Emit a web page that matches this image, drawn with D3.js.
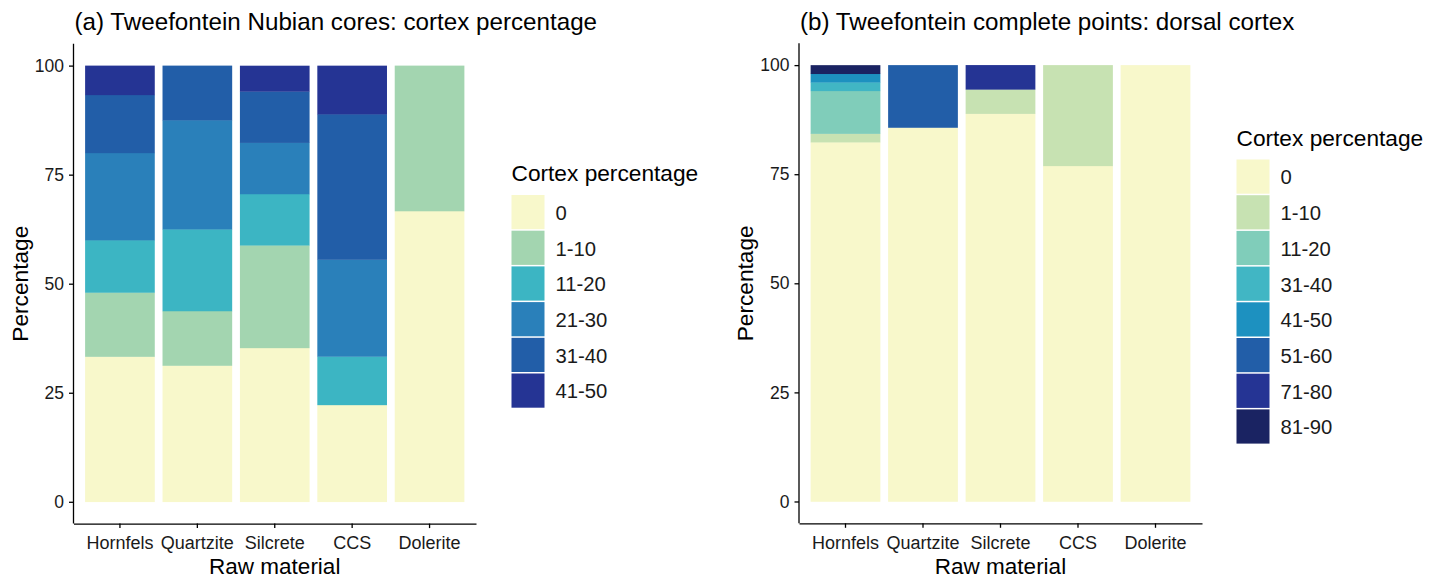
<!DOCTYPE html>
<html>
<head>
<meta charset="utf-8">
<script src="https://cdn.jsdelivr.net/npm/d3@7"></script>
<style>
  body { margin: 0; background: #fff; }
  text { font-family: "Liberation Sans", Arial, sans-serif; }
</style>
</head>
<body>
<svg id="chart" width="1438" height="579"></svg>
<script>
// raw materials on the x axis (both panels)
const materials = ["Hornfels", "Quartzite", "Silcrete", "CCS", "Dolerite"];

// (a) Nubian cores
const coresClasses = ["0", "1-10", "11-20", "21-30", "31-40", "41-50"];
const coresColors = ["#f8f8cb", "#a3d5b0", "#3cb5c3", "#2a80ba", "#225ea8", "#253494"];
// one row per class, values in materials order
const coresValues = [
  [33.3, 31.25, 35.29, 22.22, 66.67],
  [14.7, 12.5, 23.53, 0, 33.33],
  [12.0, 18.75, 11.76, 11.11, 0],
  [20.0, 25.0, 11.76, 22.22, 0],
  [13.3, 12.5, 11.76, 33.33, 0],
  [6.7, 0, 5.88, 11.11, 0]
];

// (b) complete points
const pointsClasses = ["0", "1-10", "11-20", "31-40", "41-50", "51-60", "71-80", "81-90"];
const pointsColors = ["#f8f8cb", "#c7e2b2", "#80cdba", "#41b6c4", "#1d91c0", "#225ea8", "#253494", "#1a2362"];
const pointsValues = [
  [82.35, 85.71, 88.89, 76.92, 100],
  [1.96, 0, 5.56, 23.08, 0],
  [9.80, 0, 0, 0, 0],
  [1.96, 0, 0, 0, 0],
  [1.96, 0, 0, 0, 0],
  [0, 14.29, 0, 0, 0],
  [0, 0, 5.56, 0, 0],
  [1.96, 0, 0, 0, 0]
];

const yTicks = [0, 25, 50, 75, 100];

const svg = d3.select("#chart");

function drawPanel(cfg) {
  const g = svg.append("g");

  const x = d3.scaleBand()
    .domain(materials)
    .range([cfg.left, cfg.right])
    .paddingInner(0.1)
    .paddingOuter(0.15);

  const y = d3.scaleLinear()
    .domain([-5, 105])
    .range([cfg.bottom, cfg.top]);

  // build rows for d3.stack
  const rows = materials.map((m, i) => {
    const r = {material: m};
    cfg.classes.forEach((c, k) => r[c] = cfg.values[k][i]);
    return r;
  });
  const stacked = d3.stack().keys(cfg.classes)(rows);

  g.append("g")
    .selectAll("g")
    .data(stacked)
    .join("g")
      .attr("fill", (d, k) => cfg.colors[k])
    .selectAll("rect")
    .data(d => d.filter(s => s[1] - s[0] > 0))
    .join("rect")
      .attr("x", d => x(d.data.material))
      .attr("width", x.bandwidth())
      .attr("y", d => y(d[1]))
      .attr("height", d => y(d[0]) - y(d[1]) + 0.3);

  // axes
  const ax = g.append("g")
    .attr("transform", `translate(0, ${cfg.bottom})`)
    .call(d3.axisBottom(x).tickSizeInner(4.5).tickSizeOuter(0).tickPadding(8));
  ax.selectAll("text").attr("font-size", 18).attr("fill", "#1a1a1a");

  const ay = g.append("g")
    .attr("transform", `translate(${cfg.left}, 0)`)
    .call(d3.axisLeft(y).tickValues(yTicks).tickSizeInner(4.5).tickSizeOuter(0).tickPadding(5));
  ay.selectAll("text").attr("font-size", 17.5).attr("fill", "#1a1a1a");
  ay.select(".domain").attr("d", `M0,${cfg.bottom}V${cfg.top}`);

  [ax, ay].forEach(a => {
    a.select(".domain").attr("stroke", "#000").attr("stroke-width", 1.3);
    a.selectAll(".tick line").attr("stroke", "#000").attr("stroke-width", 1.3);
  });

  // titles
  g.append("text")
    .attr("x", cfg.left + 1)
    .attr("y", 30)
    .attr("font-size", 24.2)
    .text(cfg.title);

  g.append("text")
    .attr("x", (cfg.left + cfg.right) / 2)
    .attr("y", 573.5)
    .attr("text-anchor", "middle")
    .attr("font-size", 22.5)
    .text("Raw material");

  g.append("text")
    .attr("transform", `translate(${cfg.left - 46}, ${(cfg.top + cfg.bottom) / 2}) rotate(-90)`)
    .attr("text-anchor", "middle")
    .attr("font-size", 22.7)
    .text("Percentage");

  // legend
  const lg = g.append("g").attr("transform", `translate(${cfg.legendX}, ${cfg.legendY})`);
  lg.append("text")
    .attr("x", 0)
    .attr("y", -14)
    .attr("font-size", 22.7)
    .text("Cortex percentage");
  const step = 35.7;
  const items = lg.selectAll("g.key")
    .data(cfg.classes)
    .join("g")
      .attr("class", "key")
      .attr("transform", (d, k) => `translate(0, ${k * step})`);
  items.append("rect")
    .attr("width", 33)
    .attr("height", step - 1.5)
    .attr("fill", (d, k) => cfg.colors[k]);
  items.append("text")
    .attr("x", 44)
    .attr("y", step / 2)
    .attr("dy", "0.35em")
    .attr("font-size", 20.3)
    .attr("fill", "#1a1a1a")
    .text(d => d);
}

drawPanel({
  title: "(a) Tweefontein Nubian cores: cortex percentage",
  left: 73.5, right: 476, top: 43.8, bottom: 523.6,
  classes: coresClasses, colors: coresColors, values: coresValues,
  legendX: 511.5, legendY: 195
});

drawPanel({
  title: "(b) Tweefontein complete points: dorsal cortex",
  left: 799, right: 1202, top: 43.3, bottom: 523.3,
  classes: pointsClasses, colors: pointsColors, values: pointsValues,
  legendX: 1236.5, legendY: 159.5
});
</script>
</body>
</html>
